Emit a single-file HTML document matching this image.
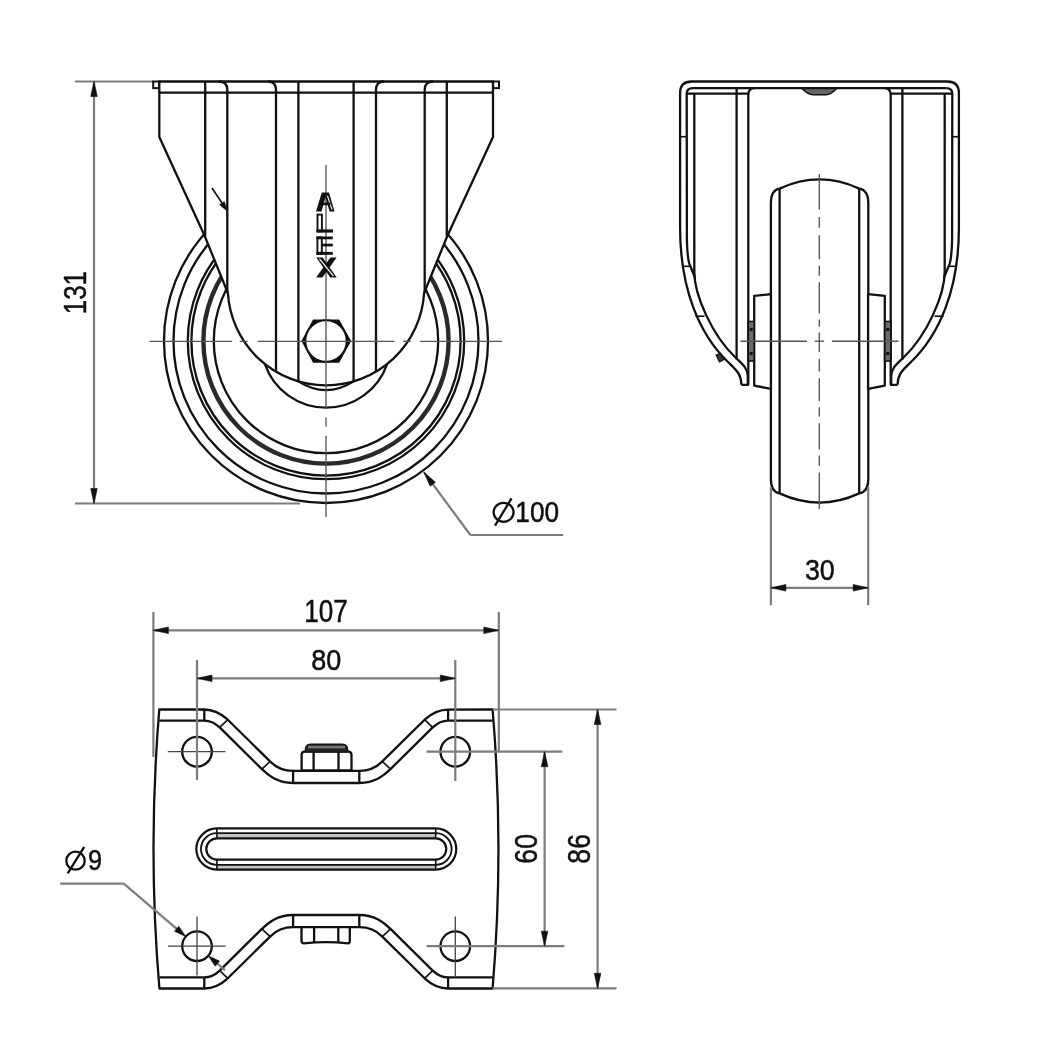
<!DOCTYPE html>
<html><head><meta charset="utf-8"><style>
html,body{margin:0;padding:0;background:#fff;}
svg{display:block;filter:grayscale(1);}
</style></head><body>
<svg width="1042" height="1060" viewBox="0 0 1042 1060">
<rect width="1042" height="1060" fill="#fff"/>
<line x1="75.00" y1="81.50" x2="153.00" y2="81.50" stroke="#7c7c7c" stroke-width="2.2" fill="none"/>
<line x1="75.00" y1="503.50" x2="300.00" y2="503.50" stroke="#7c7c7c" stroke-width="2.2" fill="none"/>
<line x1="94.00" y1="81.50" x2="94.00" y2="503.50" stroke="#7c7c7c" stroke-width="2.2" fill="none"/>
<path d="M94.00 81.50 L97.30 96.50 L90.70 96.50 Z" fill="#111" stroke="#111" stroke-width="0.6" stroke-linejoin="round"/>
<path d="M94.00 503.50 L90.70 488.50 L97.30 488.50 Z" fill="#111" stroke="#111" stroke-width="0.6" stroke-linejoin="round"/>
<text transform="translate(85.80 292.60) rotate(-90)" text-anchor="middle" font-family="Liberation Sans" font-size="31.97" textLength="43.29" lengthAdjust="spacingAndGlyphs" fill="#111" stroke="#111" stroke-width="0.5">131</text>
<circle cx="326.00" cy="341.00" r="112.20" stroke="#111" stroke-width="2.3" fill="none"/>
<circle cx="326.00" cy="341.00" r="134.60" stroke="#111" stroke-width="2.3" fill="none"/>
<circle cx="326.00" cy="341.00" r="138.20" stroke="#111" stroke-width="2.3" fill="none"/>
<circle cx="326.00" cy="341.00" r="152.50" stroke="#111" stroke-width="2.3" fill="none"/>
<circle cx="326.00" cy="341.00" r="162.00" stroke="#111" stroke-width="2.3" fill="none"/>
<circle cx="326.00" cy="341.00" r="122.60" stroke="#2a2a2a" stroke-width="4.4" fill="none"/>
<path d="M159.3 81.5 L493 81.5 L493 137 L447.5 235.5 L424.12 293 A98.3 98.3 0 0 1 227.88 293 L204.5 235.5 L159.3 137 Z" fill="#fff" stroke="#111" stroke-width="2.3" stroke-linejoin="round"/>
<rect x="153.2" y="81.5" width="5.8" height="6.6" fill="#fff" stroke="#111" stroke-width="2"/>
<rect x="493.2" y="81.5" width="5.8" height="6.6" fill="#fff" stroke="#111" stroke-width="2"/>
<line x1="159.30" y1="92.70" x2="493.00" y2="92.70" stroke="#111" stroke-width="2.3" fill="none"/>
<line x1="205.20" y1="81.50" x2="205.20" y2="236.00" stroke="#111" stroke-width="2.3" fill="none"/>
<path d="M219 81.5 Q227.3 81.5 227.3 90 L227.3 293" stroke="#111" stroke-width="2.3" fill="none"/>
<path d="M268 81.5 Q276 81.5 276 90 L276 371.63" stroke="#111" stroke-width="2.3" fill="none"/>
<line x1="298.40" y1="81.50" x2="298.40" y2="381.35" stroke="#111" stroke-width="2.3" fill="none"/>
<line x1="353.60" y1="81.50" x2="353.60" y2="381.35" stroke="#111" stroke-width="2.3" fill="none"/>
<path d="M384.0 81.5 Q376.0 81.5 376.0 90 L376.0 371.63" stroke="#111" stroke-width="2.3" fill="none"/>
<path d="M433.0 81.5 Q424.7 81.5 424.7 90 L424.7 293" stroke="#111" stroke-width="2.3" fill="none"/>
<line x1="446.80" y1="81.50" x2="446.80" y2="236.00" stroke="#111" stroke-width="2.3" fill="none"/>
<path d="M264.91 364.02 A64.6 64.6 0 0 0 387.09 364.02" stroke="#111" stroke-width="2.3" fill="none"/>
<path d="M298.4 381.35 Q326 399 353.6 381.35" stroke="#111" stroke-width="2.3" fill="none"/>
<path d="M302.40 341.00 L313.60 320.20 L338.60 320.20 L350.20 341.00 L338.60 362.00 L313.60 362.00 Z" fill="#111" stroke="#111" stroke-width="1.6" stroke-linejoin="round"/>
<circle cx="326.00" cy="341.00" r="20.70" stroke="#111" stroke-width="2.0" fill="#fff"/>
<line x1="212.00" y1="188.00" x2="222.00" y2="203.00" stroke="#111" stroke-width="1.6" fill="none"/>
<path d="M227.50 211.50 L219.66 204.69 L224.33 201.61 Z" fill="#111" stroke="#111" stroke-width="0.6" stroke-linejoin="round"/>
<line x1="149.60" y1="341.30" x2="232.10" y2="341.30" stroke="#555" stroke-width="1.35" fill="none"/>
<line x1="239.80" y1="341.30" x2="247.50" y2="341.30" stroke="#555" stroke-width="1.35" fill="none"/>
<line x1="257.70" y1="341.30" x2="394.40" y2="341.30" stroke="#555" stroke-width="1.35" fill="none"/>
<line x1="403.00" y1="341.30" x2="410.70" y2="341.30" stroke="#555" stroke-width="1.35" fill="none"/>
<line x1="420.30" y1="341.30" x2="501.90" y2="341.30" stroke="#555" stroke-width="1.35" fill="none"/>
<line x1="326.00" y1="165.00" x2="326.00" y2="408.00" stroke="#555" stroke-width="1.35" fill="none"/>
<line x1="326.00" y1="417.40" x2="326.00" y2="426.50" stroke="#555" stroke-width="1.35" fill="none"/>
<line x1="326.00" y1="435.70" x2="326.00" y2="517.00" stroke="#555" stroke-width="1.35" fill="none"/>
<path d="M316 211.6 L321.8 192.4 L329 192.4 L334.6 211.6 L329.6 211.6 L325.4 197.5 L321.6 211.6 Z" fill="#111"/>
<line x1="327.4" y1="195.6" x2="332" y2="209.6" stroke="#fff" stroke-width="1.1"/>
<rect x="320.4" y="202.6" width="10" height="2.6" fill="#111"/>
<rect x="317.5" y="214.6" width="4.4" height="16.8" fill="#fff" stroke="#111" stroke-width="1.9"/>
<rect x="316.4" y="229.4" width="16.6" height="3.2" fill="#111"/>
<rect x="317.4" y="237.4" width="4.4" height="16.6" fill="#fff" stroke="#111" stroke-width="1.9"/>
<rect x="316.4" y="236.5" width="16.4" height="2.8" fill="#111"/>
<rect x="322" y="243.7" width="10.8" height="2.7" fill="#111"/>
<rect x="316.4" y="251.9" width="16.4" height="2.9" fill="#111"/>
<path d="M330.4 257.6 L336.6 257.6 L322.4 277.4 L316.1 277.4 Z" fill="#111"/>
<path d="M316.4 257.6 L322.7 257.6 L336.7 277.4 L330.3 277.4 Z" fill="#111"/>
<line x1="319.5" y1="258.8" x2="333.5" y2="276.2" stroke="#fff" stroke-width="1.2"/>
<line x1="423.90" y1="472.20" x2="470.40" y2="535.00" stroke="#7c7c7c" stroke-width="2.2" fill="none"/>
<line x1="470.40" y1="535.00" x2="563.30" y2="535.00" stroke="#7c7c7c" stroke-width="2.2" fill="none"/>
<path d="M423.90 472.20 L435.48 482.29 L430.17 486.22 Z" fill="#111" stroke="#111" stroke-width="0.6" stroke-linejoin="round"/>
<ellipse cx="503.6" cy="512.3" rx="10.0" ry="9.5" stroke="#111" stroke-width="2.3" fill="none"/>
<line x1="495.00" y1="525.70" x2="511.50" y2="498.40" stroke="#111" stroke-width="2.3"/>
<text x="537.25" y="522.20" text-anchor="middle" font-family="Liberation Sans" font-size="30.25" textLength="43.82" lengthAdjust="spacingAndGlyphs" fill="#111" stroke="#111" stroke-width="0.5">100</text>
<path d="M770.9 479 L770.9 203 Q770.9 190 779.6 188.6 Q819.5 170.2 859.2 188.6 Q868.3 190 868.3 203 L868.3 479 Q868.3 492 859.2 493.4 Q819.5 511.8 779.6 493.4 Q770.9 492 770.9 479 Z" fill="#fff" stroke="#111" stroke-width="2.3"/>
<line x1="779.60" y1="188.60" x2="779.60" y2="493.40" stroke="#111" stroke-width="2.3" fill="none"/>
<line x1="859.20" y1="188.60" x2="859.20" y2="493.40" stroke="#111" stroke-width="2.3" fill="none"/>
<path d="M741.4 384.8 C741.4 374 736 370 728 362 C700 335 680.1 290 680.1 228 L680.1 93 Q680.1 81.5 691.6 81.5 L947.4 81.5 Q958.9 81.5 958.9 93 L958.9 228 C958.9 290 939.0 335 911.0 362 C903.0 370 897.6 374 897.6 384.8" stroke="#111" stroke-width="2.3" fill="none"/>
<path d="M694.3 93.6 L694.3 272 C694.3 295 712 335 735 357 C742 364 747.8 368 747.8 376 L747.8 384.8 L741.4 384.8" stroke="#111" stroke-width="2.3" fill="none"/>
<path d="M944.7 93.6 L944.7 272 C944.7 295 927.0 335 904.0 357 C897.0 364 891.2 368 891.2 376 L891.2 384.8 L897.6 384.8" stroke="#111" stroke-width="2.3" fill="none"/>
<line x1="686.70" y1="93.60" x2="748.30" y2="93.60" stroke="#111" stroke-width="2.3" fill="none"/>
<line x1="952.30" y1="93.60" x2="890.70" y2="93.60" stroke="#111" stroke-width="2.3" fill="none"/>
<path d="M946.3 88.2 L692.7 88.2 Q686.7 88.2 686.7 94 L686.9 240 Q687.5 262 690.5 266.5 L695.2 278" stroke="#111" stroke-width="2.3" fill="none"/>
<path d="M952.1 240 L952.3 94 Q952.3 88.2 946.3 88.2" stroke="#111" stroke-width="2.3" fill="none"/>
<path d="M952.1 240 Q951.5 262 948.5 266.5 L943.8 278" stroke="#111" stroke-width="2.3" fill="none"/>
<line x1="682.60" y1="266.30" x2="690.30" y2="266.30" stroke="#111" stroke-width="1.6" fill="none"/>
<line x1="956.40" y1="266.30" x2="948.70" y2="266.30" stroke="#111" stroke-width="1.6" fill="none"/>
<line x1="695.50" y1="316.20" x2="704.50" y2="316.20" stroke="#111" stroke-width="1.6" fill="none"/>
<line x1="943.50" y1="316.20" x2="934.50" y2="316.20" stroke="#111" stroke-width="1.6" fill="none"/>
<line x1="680.10" y1="136.70" x2="686.70" y2="136.70" stroke="#111" stroke-width="1.6" fill="none"/>
<line x1="958.90" y1="136.70" x2="952.30" y2="136.70" stroke="#111" stroke-width="1.6" fill="none"/>
<line x1="736.60" y1="88.20" x2="736.60" y2="359.50" stroke="#111" stroke-width="2.3" fill="none"/>
<line x1="902.40" y1="88.20" x2="902.40" y2="359.50" stroke="#111" stroke-width="2.3" fill="none"/>
<path d="M754.5 88.2 Q748.3 88.2 748.3 95 L748.3 384.8" stroke="#111" stroke-width="2.3" fill="none"/>
<path d="M884.5 88.2 Q890.7 88.2 890.7 95 L890.7 384.8" stroke="#111" stroke-width="2.3" fill="none"/>
<path d="M802 88.6 Q808 94.8 813 94.8 L826 94.8 Q831 94.8 836.5 88.6 Z" fill="#666" stroke="#111" stroke-width="1.5"/>
<path d="M754.20 295.80 L770.90 294.20 L770.90 388.80 L754.20 385.60 Z" fill="#fff" stroke="#111" stroke-width="2.3" stroke-linejoin="round"/>
<path d="M884.80 295.80 L868.10 294.20 L868.10 388.80 L884.80 385.60 Z" fill="#fff" stroke="#111" stroke-width="2.3" stroke-linejoin="round"/>
<rect x="748.2" y="321.5" width="6" height="39.5" fill="#6a6a6a" stroke="#111" stroke-width="1.6"/>
<rect x="749.7" y="328" width="3" height="3" fill="#111"/><rect x="749.7" y="352" width="3" height="3" fill="#111"/>
<rect x="884.8" y="321.5" width="6" height="39.5" fill="#6a6a6a" stroke="#111" stroke-width="1.6"/>
<rect x="886.3" y="328" width="3" height="3" fill="#111"/><rect x="886.3" y="352" width="3" height="3" fill="#111"/>
<path d="M716 355 L720.5 353.5 L724 359.5 L719.5 362 Z" fill="#333" stroke="#111" stroke-width="1.2"/>
<line x1="740.40" y1="341.20" x2="806.90" y2="341.20" stroke="#555" stroke-width="1.35" fill="none"/>
<line x1="814.60" y1="341.20" x2="824.10" y2="341.20" stroke="#555" stroke-width="1.35" fill="none"/>
<line x1="831.90" y1="341.20" x2="898.40" y2="341.20" stroke="#555" stroke-width="1.35" fill="none"/>
<line x1="819.30" y1="174.10" x2="819.30" y2="209.60" stroke="#555" stroke-width="1.35" fill="none"/>
<line x1="819.30" y1="217.00" x2="819.30" y2="227.80" stroke="#555" stroke-width="1.35" fill="none"/>
<line x1="819.30" y1="235.20" x2="819.30" y2="259.20" stroke="#555" stroke-width="1.35" fill="none"/>
<line x1="819.30" y1="265.80" x2="819.30" y2="275.70" stroke="#555" stroke-width="1.35" fill="none"/>
<line x1="819.30" y1="282.30" x2="819.30" y2="313.60" stroke="#555" stroke-width="1.35" fill="none"/>
<line x1="819.30" y1="319.40" x2="819.30" y2="326.80" stroke="#555" stroke-width="1.35" fill="none"/>
<line x1="819.30" y1="332.60" x2="819.30" y2="352.00" stroke="#555" stroke-width="1.35" fill="none"/>
<line x1="819.30" y1="358.80" x2="819.30" y2="371.50" stroke="#555" stroke-width="1.35" fill="none"/>
<line x1="819.30" y1="378.30" x2="819.30" y2="401.20" stroke="#555" stroke-width="1.35" fill="none"/>
<line x1="819.30" y1="407.20" x2="819.30" y2="416.50" stroke="#555" stroke-width="1.35" fill="none"/>
<line x1="819.30" y1="423.30" x2="819.30" y2="449.60" stroke="#555" stroke-width="1.35" fill="none"/>
<line x1="819.30" y1="455.60" x2="819.30" y2="465.80" stroke="#555" stroke-width="1.35" fill="none"/>
<line x1="819.30" y1="472.50" x2="819.30" y2="509.00" stroke="#555" stroke-width="1.35" fill="none"/>
<line x1="770.90" y1="487.00" x2="770.90" y2="605.20" stroke="#7c7c7c" stroke-width="2.2" fill="none"/>
<line x1="868.20" y1="487.00" x2="868.20" y2="605.20" stroke="#7c7c7c" stroke-width="2.2" fill="none"/>
<line x1="770.90" y1="587.80" x2="868.20" y2="587.80" stroke="#7c7c7c" stroke-width="2.2" fill="none"/>
<path d="M770.90 587.80 L785.90 584.50 L785.90 591.10 Z" fill="#111" stroke="#111" stroke-width="0.6" stroke-linejoin="round"/>
<path d="M868.20 587.80 L853.20 591.10 L853.20 584.50 Z" fill="#111" stroke="#111" stroke-width="0.6" stroke-linejoin="round"/>
<text x="819.80" y="579.90" text-anchor="middle" font-family="Liberation Sans" font-size="30.25" textLength="29.84" lengthAdjust="spacingAndGlyphs" fill="#111" stroke="#111" stroke-width="0.5">30</text>
<path d="M159.3 709.5 L204.3 709.5 C213 709.6 221 713.5 227.8 719.7 L270.1 761.4 C276 767.5 285 770.8 293.1 770.8 L359.29999999999995 770.8 C367.4 770.8 376.4 767.5 382.29999999999995 761.4 L424.59999999999997 719.7 C431.4 713.5 439.4 709.6 448.09999999999997 709.6 L492.6 709.5 A1666 1666 0 0 1 492.6 988.5 L448.09999999999997 988.5 C439.4 988.5 431.4 984.5 424.59999999999997 978.3 L382.29999999999995 936.6 C376.4 930.5 367.4 927.2 359.29999999999995 927.2 L293.1 927.2 C285 927.2 276 930.5 270.1 936.6 L227.8 978.3 C221 984.5 213 988.5 204.3 988.5 L159.4 988.5 A1666 1666 0 0 1 159.3 709.5 Z" fill="#fff" stroke="#111" stroke-width="2.3" stroke-linejoin="round"/>
<path d="M159.3 720.6 L204.3 720.6 C209 720.6 215 723 219.7 727.4 L261.9 769.1 C268 775 277 783 293.1 783 L359.29999999999995 783 C375.4 783 384.4 775 390.5 769.1 L432.7 727.4 C437.4 723 443.4 720.6 448.09999999999997 720.6 L492.6 720.6" stroke="#111" stroke-width="2.3" fill="none"/>
<path d="M159.4 977.4 L204.3 977.4 C209 977.4 215 975.0 219.7 970.6 L261.9 928.9 C268 923.0 277 915.0 293.1 915.0 L359.29999999999995 915.0 C375.4 915.0 384.4 923.0 390.5 928.9 L432.7 970.6 C437.4 975.0 443.4 977.4 448.09999999999997 977.4 L492.6 977.4" stroke="#111" stroke-width="2.3" fill="none"/>
<line x1="204.30" y1="709.50" x2="204.30" y2="721.00" stroke="#111" stroke-width="2.3" fill="none"/>
<line x1="448.10" y1="709.50" x2="448.10" y2="721.00" stroke="#111" stroke-width="2.3" fill="none"/>
<line x1="204.30" y1="977.00" x2="204.30" y2="988.50" stroke="#111" stroke-width="2.3" fill="none"/>
<line x1="448.10" y1="977.00" x2="448.10" y2="988.50" stroke="#111" stroke-width="2.3" fill="none"/>
<line x1="293.10" y1="770.80" x2="293.10" y2="783.00" stroke="#111" stroke-width="2.3" fill="none"/>
<line x1="359.30" y1="770.80" x2="359.30" y2="783.00" stroke="#111" stroke-width="2.3" fill="none"/>
<line x1="293.10" y1="915.00" x2="293.10" y2="927.20" stroke="#111" stroke-width="2.3" fill="none"/>
<line x1="359.30" y1="915.00" x2="359.30" y2="927.20" stroke="#111" stroke-width="2.3" fill="none"/>
<line x1="227.80" y1="719.70" x2="219.70" y2="727.40" stroke="#111" stroke-width="1.6" fill="none"/>
<line x1="424.60" y1="719.70" x2="432.70" y2="727.40" stroke="#111" stroke-width="1.6" fill="none"/>
<line x1="227.80" y1="978.30" x2="219.70" y2="970.60" stroke="#111" stroke-width="1.6" fill="none"/>
<line x1="424.60" y1="978.30" x2="432.70" y2="970.60" stroke="#111" stroke-width="1.6" fill="none"/>
<line x1="270.10" y1="761.40" x2="261.90" y2="769.10" stroke="#111" stroke-width="1.6" fill="none"/>
<line x1="382.30" y1="761.40" x2="390.50" y2="769.10" stroke="#111" stroke-width="1.6" fill="none"/>
<line x1="270.10" y1="936.60" x2="261.90" y2="928.90" stroke="#111" stroke-width="1.6" fill="none"/>
<line x1="382.30" y1="936.60" x2="390.50" y2="928.90" stroke="#111" stroke-width="1.6" fill="none"/>
<path d="M301.6 770.4 L301.6 755 Q301.6 752 304 751.7 L348.8 751.7 Q351.5 752 351.5 755 L351.5 770.4 Z" fill="#fff" stroke="#111" stroke-width="2.3"/>
<path d="M305 752 L305.5 748 Q306.5 744 311 744 L342 744 Q346.5 744 347.5 748 L348 752 Z" fill="#222" stroke="#111" stroke-width="1.2"/>
<rect x="308" y="745.8" width="37" height="2.6" fill="#777"/>
<line x1="313.60" y1="752.00" x2="313.60" y2="770.40" stroke="#111" stroke-width="2.3" fill="none"/>
<line x1="338.50" y1="752.00" x2="338.50" y2="770.40" stroke="#111" stroke-width="2.3" fill="none"/>
<path d="M301.5 927.2 L301.5 941 Q301.5 943.3 304 943.3 Q326 941 348 943.3 Q349.8 943.3 349.8 941 L349.8 927.2 Z" fill="#fff" stroke="#111" stroke-width="2.3"/>
<line x1="314.10" y1="927.20" x2="314.10" y2="942.50" stroke="#111" stroke-width="2.3" fill="none"/>
<line x1="338.30" y1="927.20" x2="338.30" y2="942.50" stroke="#111" stroke-width="2.3" fill="none"/>
<rect x="216.9" y="833.2" width="218.8" height="5" fill="#c4c4c4"/>
<rect x="216.9" y="864.6" width="218.8" height="5" fill="#c4c4c4"/>
<path d="M216.9 828.4 L435.7 828.4 A20.6 20.6 0 0 1 435.7 869.6 L216.9 869.6 A20.6 20.6 0 0 1 216.9 828.4 Z" stroke="#111" stroke-width="2.2" fill="none"/>
<path d="M216.9 833.1 L435.7 833.1 A15.9 15.9 0 0 1 435.7 864.9 L216.9 864.9 A15.9 15.9 0 0 1 216.9 833.1 Z" stroke="#111" stroke-width="1.8" fill="none"/>
<path d="M216.9 838.4 L435.7 838.4 A10.6 10.6 0 0 1 435.7 859.6 L216.9 859.6 A10.6 10.6 0 0 1 216.9 838.4 Z" stroke="#111" stroke-width="2.2" fill="none"/>
<line x1="216.90" y1="828.40" x2="216.90" y2="838.40" stroke="#111" stroke-width="1.6" fill="none"/>
<line x1="216.90" y1="859.60" x2="216.90" y2="869.60" stroke="#111" stroke-width="1.6" fill="none"/>
<line x1="435.70" y1="828.40" x2="435.70" y2="838.40" stroke="#111" stroke-width="1.6" fill="none"/>
<line x1="435.70" y1="859.60" x2="435.70" y2="869.60" stroke="#111" stroke-width="1.6" fill="none"/>
<circle cx="197.00" cy="751.70" r="14.80" stroke="#111" stroke-width="2.3" fill="none"/>
<circle cx="455.30" cy="751.70" r="14.80" stroke="#111" stroke-width="2.3" fill="none"/>
<circle cx="197.00" cy="946.20" r="14.80" stroke="#111" stroke-width="2.3" fill="none"/>
<circle cx="455.30" cy="946.20" r="14.80" stroke="#111" stroke-width="2.3" fill="none"/>
<line x1="167.80" y1="751.70" x2="225.40" y2="751.70" stroke="#444" stroke-width="1.3"/>
<line x1="168.10" y1="946.20" x2="225.70" y2="946.20" stroke="#444" stroke-width="1.3"/>
<line x1="197.00" y1="916.40" x2="197.00" y2="975.40" stroke="#444" stroke-width="1.3"/>
<line x1="455.30" y1="916.40" x2="455.30" y2="976.00" stroke="#444" stroke-width="1.3"/>
<line x1="153.40" y1="612.00" x2="153.40" y2="757.00" stroke="#7c7c7c" stroke-width="2.2" fill="none"/>
<line x1="498.80" y1="612.00" x2="498.80" y2="752.00" stroke="#7c7c7c" stroke-width="2.2" fill="none"/>
<line x1="153.40" y1="630.30" x2="498.80" y2="630.30" stroke="#7c7c7c" stroke-width="2.2" fill="none"/>
<path d="M153.40 630.30 L168.40 627.00 L168.40 633.60 Z" fill="#111" stroke="#111" stroke-width="0.6" stroke-linejoin="round"/>
<path d="M498.80 630.30 L483.80 633.60 L483.80 627.00 Z" fill="#111" stroke="#111" stroke-width="0.6" stroke-linejoin="round"/>
<text x="326.05" y="621.90" text-anchor="middle" font-family="Liberation Sans" font-size="30.47" textLength="43.59" lengthAdjust="spacingAndGlyphs" fill="#111" stroke="#111" stroke-width="0.5">107</text>
<line x1="197.00" y1="660.00" x2="197.00" y2="780.00" stroke="#7c7c7c" stroke-width="2.2" fill="none"/>
<line x1="455.30" y1="660.00" x2="455.30" y2="781.00" stroke="#7c7c7c" stroke-width="2.2" fill="none"/>
<line x1="197.00" y1="678.30" x2="455.30" y2="678.30" stroke="#7c7c7c" stroke-width="2.2" fill="none"/>
<path d="M197.00 678.30 L212.00 675.00 L212.00 681.60 Z" fill="#111" stroke="#111" stroke-width="0.6" stroke-linejoin="round"/>
<path d="M455.30 678.30 L440.30 681.60 L440.30 675.00 Z" fill="#111" stroke="#111" stroke-width="0.6" stroke-linejoin="round"/>
<text x="326.20" y="670.00" text-anchor="middle" font-family="Liberation Sans" font-size="29.90" textLength="30.05" lengthAdjust="spacingAndGlyphs" fill="#111" stroke="#111" stroke-width="0.5">80</text>
<line x1="426.50" y1="751.70" x2="562.40" y2="751.70" stroke="#7c7c7c" stroke-width="2.2" fill="none"/>
<line x1="426.50" y1="946.20" x2="564.30" y2="946.20" stroke="#7c7c7c" stroke-width="2.2" fill="none"/>
<line x1="544.60" y1="751.70" x2="544.60" y2="946.20" stroke="#7c7c7c" stroke-width="2.2" fill="none"/>
<path d="M544.60 751.70 L547.90 766.70 L541.30 766.70 Z" fill="#111" stroke="#111" stroke-width="0.6" stroke-linejoin="round"/>
<path d="M544.60 946.20 L541.30 931.20 L547.90 931.20 Z" fill="#111" stroke="#111" stroke-width="0.6" stroke-linejoin="round"/>
<text transform="translate(536.90 848.85) rotate(-90)" text-anchor="middle" font-family="Liberation Sans" font-size="31.08" textLength="29.57" lengthAdjust="spacingAndGlyphs" fill="#111" stroke="#111" stroke-width="0.5">60</text>
<line x1="492.60" y1="709.50" x2="616.50" y2="709.50" stroke="#7c7c7c" stroke-width="2.2" fill="none"/>
<line x1="492.60" y1="988.30" x2="616.50" y2="988.30" stroke="#7c7c7c" stroke-width="2.2" fill="none"/>
<line x1="597.60" y1="709.50" x2="597.60" y2="988.30" stroke="#7c7c7c" stroke-width="2.2" fill="none"/>
<path d="M597.60 709.50 L600.90 724.50 L594.30 724.50 Z" fill="#111" stroke="#111" stroke-width="0.6" stroke-linejoin="round"/>
<path d="M597.60 988.30 L594.30 973.30 L600.90 973.30 Z" fill="#111" stroke="#111" stroke-width="0.6" stroke-linejoin="round"/>
<text transform="translate(589.50 848.85) rotate(-90)" text-anchor="middle" font-family="Liberation Sans" font-size="30.47" textLength="29.57" lengthAdjust="spacingAndGlyphs" fill="#111" stroke="#111" stroke-width="0.5">86</text>
<line x1="60.20" y1="883.70" x2="123.40" y2="883.70" stroke="#7c7c7c" stroke-width="2.2" fill="none"/>
<line x1="123.50" y1="883.30" x2="179.68" y2="931.38" stroke="#7c7c7c" stroke-width="2.2" fill="none"/>
<path d="M185.76 936.58 L174.49 931.28 L178.78 926.27 Z" fill="#111" stroke="#111" stroke-width="0.6" stroke-linejoin="round"/>
<line x1="214.32" y1="961.02" x2="224.96" y2="970.13" stroke="#7c7c7c" stroke-width="2.2" fill="none"/>
<path d="M208.24 955.82 L219.51 961.12 L215.22 966.13 Z" fill="#111" stroke="#111" stroke-width="0.6" stroke-linejoin="round"/>
<ellipse cx="75.5" cy="860.7" rx="9.2" ry="9.0" stroke="#111" stroke-width="2.3" fill="none"/>
<line x1="67.70" y1="873.40" x2="84.20" y2="846.90" stroke="#111" stroke-width="2.3"/>
<text x="95.10" y="870.30" text-anchor="middle" font-family="Liberation Sans" font-size="29.11" textLength="14.08" lengthAdjust="spacingAndGlyphs" fill="#111" stroke="#111" stroke-width="0.5">9</text>
</svg></body></html>
